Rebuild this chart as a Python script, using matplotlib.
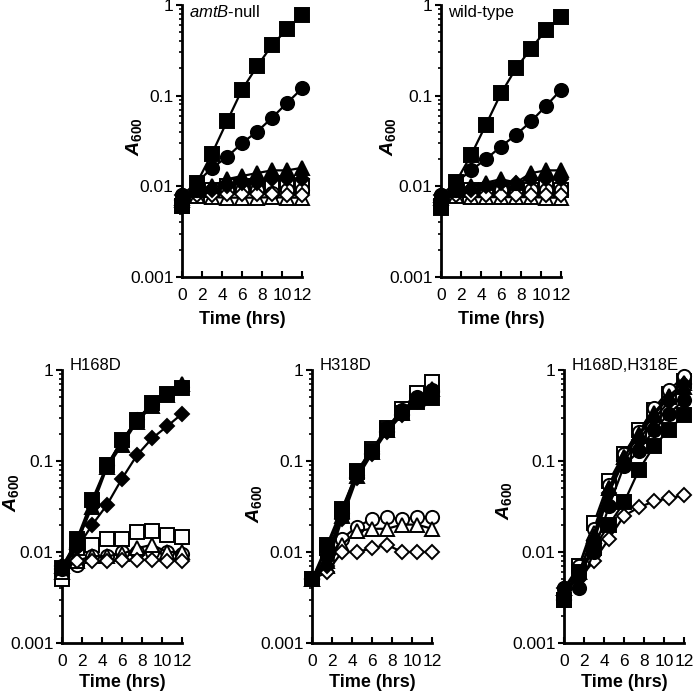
import matplotlib as mpl
mpl.use('Agg')
import matplotlib.pyplot as plt
from matplotlib.ticker import FixedLocator, FixedFormatter, LogLocator, NullFormatter

plt.rcParams['font.family'] = ['Liberation Sans', 'DejaVu Sans']
plt.rcParams['mathtext.fontset'] = 'custom'
plt.rcParams['mathtext.rm'] = 'Liberation Sans'
plt.rcParams['mathtext.it'] = 'Liberation Sans:italic'
plt.rcParams['mathtext.bf'] = 'Liberation Sans:bold'
plt.rcParams['mathtext.bfit'] = 'Liberation Sans:italic:bold'

################## DATA ##################
hours = [0, 1.5, 3, 4.5, 6, 7.5, 9, 10.5, 12]

#series order: filled square, filled circle, filled triangle, filled diamond,
#              open square, open circle, open triangle, open diamond
amtb_null = [
	[0.006, 0.011, 0.023, 0.052, 0.116, 0.21, 0.36, 0.54, 0.78],
	[0.008, 0.011, 0.016, 0.021, 0.030, 0.040, 0.057, 0.083, 0.12],
	[0.007, 0.009, 0.010, 0.012, 0.013, 0.014, 0.015, 0.015, 0.016],
	[0.007, 0.009, 0.009, 0.010, 0.011, 0.011, 0.012, 0.012, 0.012],
	[0.006, 0.008, 0.009, 0.010, 0.010, 0.010, 0.010, 0.011, 0.010],
	[0.008, 0.009, 0.009, 0.009, 0.009, 0.009, 0.0085, 0.009, 0.009],
	[0.0075, 0.0078, 0.0076, 0.0075, 0.0075, 0.0075, 0.0076, 0.0075, 0.0075],
	[0.008, 0.008, 0.008, 0.0082, 0.0082, 0.0082, 0.0082, 0.008, 0.008],
]
wild_type = [
	[0.0058, 0.0112, 0.022, 0.048, 0.106, 0.20, 0.33, 0.53, 0.74],
	[0.008, 0.011, 0.015, 0.020, 0.0275, 0.037, 0.052, 0.077, 0.116],
	[0.008, 0.009, 0.010, 0.011, 0.012, 0.011, 0.014, 0.015, 0.015],
	[0.007, 0.009, 0.009, 0.010, 0.011, 0.011, 0.012, 0.012, 0.012],
	[0.006, 0.008, 0.009, 0.009, 0.009, 0.009, 0.009, 0.010, 0.009],
	[0.008, 0.009, 0.009, 0.009, 0.009, 0.009, 0.009, 0.009, 0.009],
	[0.0075, 0.0078, 0.0076, 0.0076, 0.0076, 0.0076, 0.0076, 0.0075, 0.0075],
	[0.008, 0.008, 0.008, 0.008, 0.008, 0.008, 0.008, 0.008, 0.008],
]
h168d = [
	[0.0066, 0.014, 0.037, 0.09, 0.17, 0.28, 0.43, 0.55, 0.63],
	[0.0065, 0.012, 0.034, 0.09, 0.165, 0.29, 0.42, 0.55, 0.65],
	[0.007, 0.013, 0.031, 0.085, 0.15, 0.27, 0.40, 0.53, 0.70],
	[0.0065, 0.011, 0.0197, 0.033, 0.064, 0.116, 0.177, 0.24, 0.33],
	[0.005, 0.011, 0.012, 0.014, 0.014, 0.0165, 0.017, 0.0155, 0.0147],
	[0.007, 0.0072, 0.009, 0.009, 0.010, 0.010, 0.010, 0.010, 0.0095],
	[0.006, 0.008, 0.009, 0.009, 0.0095, 0.011, 0.012, 0.010, 0.010],
	[0.007, 0.008, 0.008, 0.008, 0.0082, 0.0082, 0.0082, 0.008, 0.008],
]
h318d = [
	[0.005, 0.012, 0.030, 0.075, 0.13, 0.22, 0.34, 0.45, 0.49],
	[0.005, 0.009, 0.027, 0.070, 0.13, 0.23, 0.36, 0.50, 0.60],
	[0.005, 0.008, 0.025, 0.068, 0.125, 0.22, 0.34, 0.48, 0.62],
	[0.005, 0.007, 0.023, 0.065, 0.12, 0.21, 0.32, 0.46, 0.58],
	[0.005, 0.011, 0.028, 0.078, 0.135, 0.23, 0.37, 0.56, 0.74],
	[0.005, 0.008, 0.014, 0.019, 0.023, 0.024, 0.023, 0.024, 0.024],
	[0.005, 0.007, 0.012, 0.017, 0.018, 0.018, 0.020, 0.020, 0.018],
	[0.005, 0.006, 0.010, 0.010, 0.011, 0.012, 0.010, 0.010, 0.010],
]
h168d_h318e = [
	[0.003, 0.006, 0.011, 0.020, 0.035, 0.08, 0.146, 0.22, 0.32],
	[0.004, 0.004, 0.010, 0.032, 0.088, 0.13, 0.22, 0.33, 0.47],
	[0.004, 0.006, 0.015, 0.05, 0.11, 0.19, 0.32, 0.50, 0.65],
	[0.004, 0.005, 0.013, 0.045, 0.10, 0.17, 0.29, 0.45, 0.70],
	[0.003, 0.007, 0.021, 0.06, 0.12, 0.22, 0.36, 0.55, 0.75],
	[0.004, 0.007, 0.018, 0.055, 0.12, 0.21, 0.38, 0.60, 0.85],
	[0.004, 0.006, 0.016, 0.05, 0.11, 0.20, 0.34, 0.52, 0.72],
	[0.003, 0.005, 0.008, 0.014, 0.025, 0.031, 0.036, 0.039, 0.042],
]

panel_titles = [r'$\it{amtB}$-null', 'wild-type', 'H168D', 'H318D', 'H168D,H318E']
panel_data = [amtb_null, wild_type, h168d, h318d, h168d_h318e]

y_ticks = [0.001, 0.01, 0.1, 1]
y_ticklabels = ['0.001', '0.01', '0.1', '1']
x_ticks = [0, 2, 4, 6, 8, 10, 12]

################## STYLE ##################
markers = ['s', 'o', '^', 'D', 's', 'o', '^', 'D']
faces = ['black'] * 4 + ['white'] * 4
msizes = [9.5, 9.5, 9.5, 6.8, 9.5, 9.5, 9.5, 6.8]
#open series drawn first, filled ones over them
draw_order = [4, 5, 6, 7, 0, 1, 2, 3]

W, H = 693.0, 692.0
#(left px, top px, bottom px, ylabel offset, ylabel y, title y)
boxes = [
	(182, 5, 277, -0.32, 0.515, 0.974),
	(441, 5, 277, -0.36, 0.515, 0.974),
	(62, 370, 643, -0.34, 0.55, 1.018),
	(312, 370, 643, -0.40, 0.51, 1.018),
	(564, 370, 643, -0.42, 0.52, 1.018),
]

fig = plt.figure(figsize=(6.93, 6.92), dpi=100)

for k in range(5):
	left, top, bot, ylx, yly, ty = boxes[k]
	ax = fig.add_axes([left / W, 1 - bot / H, 120 / W, (bot - top) / H])

	for i in draw_order:
		ax.plot(hours, panel_data[k][i], color='black', lw=1.6,
			marker=markers[i], ms=msizes[i], mfc=faces[i], mec='black',
			mew=1.4, clip_on=False, zorder=3)

	ax.set_yscale('log')
	ax.set_ylim(0.001, 1)
	ax.set_xlim(0, 12)
	ax.yaxis.set_major_locator(FixedLocator(y_ticks))
	ax.yaxis.set_major_formatter(FixedFormatter(y_ticklabels))
	ax.yaxis.set_minor_locator(LogLocator(base=10, subs=range(2, 10)))
	ax.yaxis.set_minor_formatter(NullFormatter())
	ax.set_xticks(x_ticks)

	for side in ['top', 'right']:
		ax.spines[side].set_visible(False)
	for side in ['left', 'bottom']:
		ax.spines[side].set_linewidth(2)

	ax.tick_params(axis='y', which='major', direction='out', length=4, width=1.5, pad=2, labelsize=12.5)
	ax.tick_params(axis='y', which='minor', direction='out', length=2.5, width=1.2)
	ax.tick_params(axis='x', direction='in', length=4, width=1.5, pad=8, labelsize=12.5)

	ax.set_xlabel('Time (hrs)', fontsize=13, fontweight='bold')
	ax.xaxis.set_label_coords(0.5, -0.125 if k < 2 else -0.115)
	ax.set_ylabel(r'$\mathbfit{A}_{\mathbf{600}}$', fontsize=14)
	ax.yaxis.set_label_coords(ylx, yly)

	ax.text(0.06, ty, panel_titles[k], transform=ax.transAxes, fontsize=12,
		ha='left', va='center')

fig.savefig('out.png', dpi=100)
